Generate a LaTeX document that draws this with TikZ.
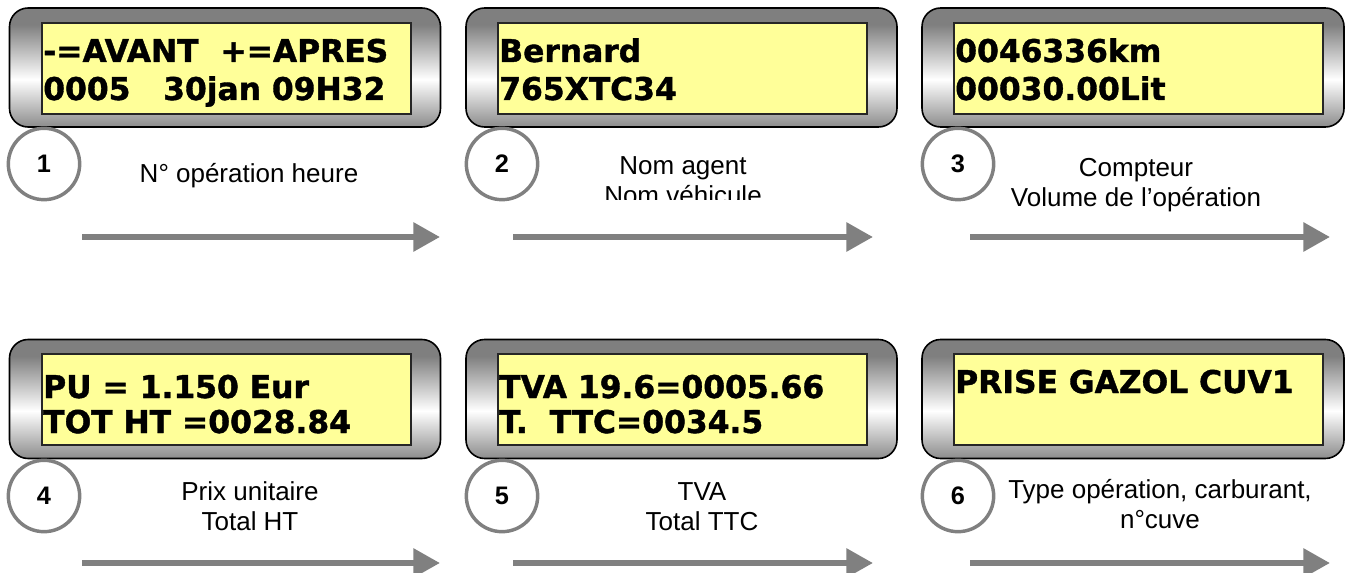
\documentclass[tikz,border=0pt]{standalone}
\usepackage{fontspec}
\setmainfont{Liberation Sans}
\newfontfamily\lcdfont{DejaVu Sans Bold}[FakeBold=1.2]
\usetikzlibrary{arrows.meta, positioning}
\definecolor{lcdyellow}{HTML}{FFFF99}
\definecolor{bezelgray}{HTML}{7F7F7F}
\definecolor{numgray}{HTML}{808080}
\definecolor{arrowgray}{HTML}{808080}
\pgfdeclareverticalshading{bezel}{100bp}{%
  color(0bp)=(bezelgray!105!white); color(25bp)=(bezelgray!90!white);
  color(45bp)=(white); color(68bp)=(bezelgray); color(100bp)=(bezelgray)}

\begin{document}
\begin{tikzpicture}[
    x=0.75pt, y=-0.75pt,
    bezel/.style={
        draw=black, line width=1.2pt, rounded corners=14pt,
        shade, shading=bezel, inner sep=0pt,
        minimum width=323.25pt, minimum height=89.25pt
    },
    lcd/.style={
        draw=black!85, line width=0.8pt, fill=lcdyellow, inner sep=0pt,
        minimum width=276.75pt, minimum height=68.25pt
    },
    lcdtext/.style={anchor=base west, inner sep=0pt,
        font=\lcdfont\fontsize{23.5}{23.5}\selectfont},
    num/.style={circle, draw=numgray, line width=2.6pt, fill=white,
        minimum size=53.5pt, inner sep=0pt,
        font=\bfseries\fontsize{19}{19}\selectfont},
    label/.style={anchor=base, align=center, inner sep=0pt,
        font=\fontsize{19.5}{22.5}\selectfont},
    bigarrow/.style={-{Triangle[length=20pt, width=21pt]}, line width=4.5pt,
        draw=arrowgray}
]
\useasboundingbox (0,0) rectangle (1345,573);

% --- Display frames (row 1) ---
\node[bezel] (bz1) at (225, 67.5) {};
\node[bezel] (bz2) at (681.5, 67.5) {};
\node[bezel, minimum width=316.5pt] (bz3) at (1133, 67.5) {};
\node[lcd] (lcd1) at (226.5, 68.5) {};
\node[lcd] (lcd2) at (682.5, 68.5) {};
\node[lcd] (lcd3) at (1138.5, 68.5) {};

% --- Display frames (row 2) ---
\node[bezel] (bz4) at (225, 399) {};
\node[bezel] (bz5) at (681.5, 399) {};
\node[bezel, minimum width=316.5pt] (bz6) at (1133, 399) {};
\node[lcd] (lcd4) at (226.5, 399.5) {};
\node[lcd] (lcd5) at (682.5, 399.5) {};
\node[lcd] (lcd6) at (1138.5, 399.5) {};

% --- Display texts ---
\node[lcdtext] (t1a) at (43, 62) {-=AVANT\ \ +=APRES};
\node[lcdtext] (t1b) at (43, 100) {0005\ \ \ 30jan 09H32};
\node[lcdtext] (t2a) at (499, 62) {Bernard};
\node[lcdtext] (t2b) at (499, 100) {765XTC34};
\node[lcdtext] (t3a) at (955, 62) {0046336km};
\node[lcdtext] (t3b) at (955, 100) {00030.00Lit};
\node[lcdtext] (t4a) at (43, 398) {PU = 1.150 Eur};
\node[lcdtext] (t4b) at (43, 433) {TOT HT =0028.84};
\node[lcdtext] (t5a) at (499, 398) {TVA 19.6=0005.66};
\node[lcdtext] (t5b) at (499, 433) {T.\ \ TTC=0034.5};
\node[lcdtext] (t6a) at (955, 393) {PRISE GAZOL CUV1};

% --- Step numbers ---
\node[num] (n1) at (44, 164) {1};
\node[num] (n2) at (502, 164) {2};
\node[num] (n3) at (958, 164) {3};
\node[num] (n4) at (44, 496) {4};
\node[num] (n5) at (502, 496) {5};
\node[num] (n6) at (958, 496) {6};

% --- Step labels (base = last line) ---
\node[label] (lab1) at (249, 183) {N° opération heure};
\begin{scope}
  \clip (560, 140) rectangle (830, 200);
  \node[label] (lab2) at (683, 205) {Nom agent\\Nom véhicule};
\end{scope}
\node[label] (lab3) at (1136, 207) {Compteur\\Volume de l’opération};
\node[label] (lab4) at (250, 530) {Prix unitaire\\Total HT};
\node[label] (lab5) at (702, 530) {TVA\\Total TTC};
\node[label] (lab6) at (1160, 528) {Type opération, carburant,\\n°cuve};

% --- Flow arrows ---
\foreach \i/\xa/\xb/\y in {1/82/440/237, 2/513/873/237, 3/970/1330/237,
                           4/82/440/563, 5/513/873/563, 6/970/1330/563} {
    \coordinate (a\i s) at (\xa, \y);
    \coordinate (a\i e) at (\xb, \y);
    \draw[bigarrow] (a\i s) -- (a\i e);
}

\end{tikzpicture}
\end{document}
